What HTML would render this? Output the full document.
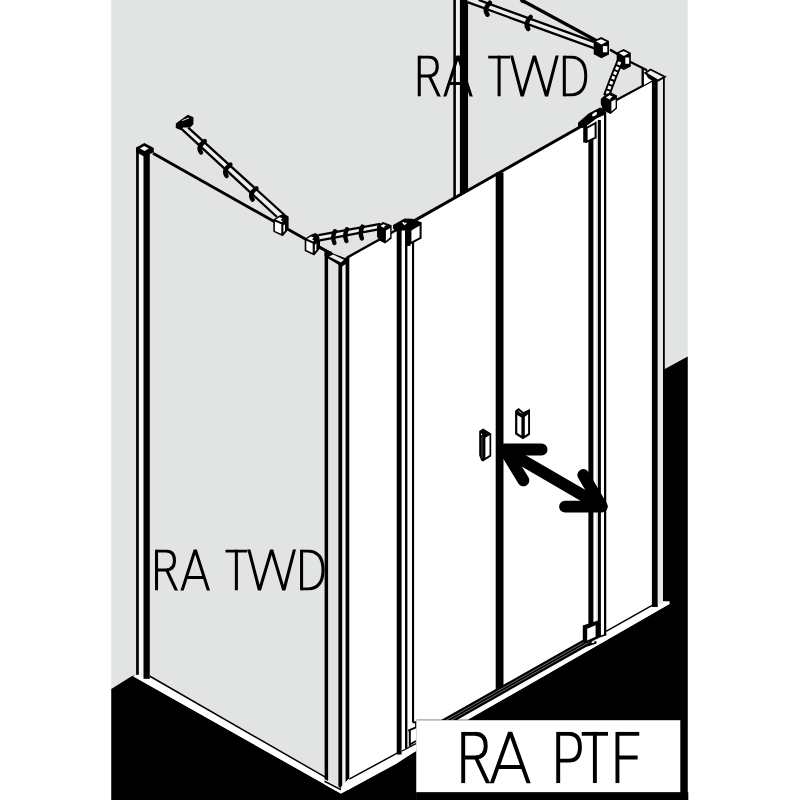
<!DOCTYPE html>
<html><head><meta charset="utf-8"><title>RA TWD / RA PTF</title>
<style>html,body{margin:0;padding:0;background:#fff;font-family:"Liberation Sans",sans-serif;}svg{display:block}</style>
</head><body>
<svg width="800" height="800" viewBox="0 0 800 800">
<rect x="0" y="0" width="800" height="800" fill="#fff"/>
<rect x="111.25" y="0" width="576.5" height="800" fill="#e2e4e3"/>
<polygon points="111.25,688.9 131.2,676.6 134.4,675.2 134.6,677 341,793.5 416.3,750.8 416.3,800 111.25,800" fill="#000" stroke="none" stroke-width="0" stroke-linejoin="miter"/>
<polygon points="687.75,356.5 663,370.1 663,601.5 669.4,601.5 669.4,604 468,719.6035999999999 416.3,719.6035999999999 416.3,800 687.75,800" fill="#000" stroke="none" stroke-width="0" stroke-linejoin="miter"/>
<rect x="453.3" y="0" width="6.7" height="200" fill="#f1f1f1"/>
<rect x="453.3" y="0" width="2.6" height="200" fill="#000"/>
<rect x="459.9" y="0" width="8.15" height="200" fill="#000"/>
<polygon points="348,257.5 396,230 396,764 348,790" fill="#fff" stroke="none" stroke-width="0" stroke-linejoin="miter"/>
<polygon points="396,232 415,220.3 583,125.38000000000002 607,108 616,100 652,80.5 658,80.5 658,604 663,601.5 669.4,601.5 669.4,604 468,719.6035999999999 416.3,719.6035999999999 416.3,750.8 396,764" fill="#fff" stroke="none" stroke-width="0" stroke-linejoin="miter"/>
<line x1="153" y1="153.3" x2="330" y2="253" stroke="#000" stroke-width="2.9" stroke-linecap="butt"/>
<polygon points="133,676.2 134.5,675.6 138.8,674.6 149.5,675.6 326,777.2 341,787 341,793.5" fill="#fff" stroke="none" stroke-width="0" stroke-linejoin="miter"/>
<line x1="149.5" y1="676" x2="327.5" y2="778.4" stroke="#000" stroke-width="1.5" stroke-linecap="butt"/>
<rect x="136.1" y="150" width="13.9" height="527" fill="#f4f4f4"/>
<rect x="136.1" y="148" width="2.7" height="526.8" fill="#000"/>
<rect x="143.5" y="150" width="6.3" height="528.8" fill="#000"/>
<polygon points="136,147.6 144.4,143 153.8,148 153.8,152.2 149.9,154 144,156.5 136,152" fill="#000" stroke="none" stroke-width="0" stroke-linejoin="miter"/>
<polygon points="139.9,148.4 144.1,145.9 148.8,148.5 144.6,150.9" fill="#f4f4f4" stroke="none" stroke-width="0" stroke-linejoin="miter"/>
<rect x="328" y="258" width="10.2" height="528" fill="#e2e4e3"/>
<rect x="341.9" y="262" width="3.6" height="528" fill="#f2f2f2"/>
<rect x="324.6" y="252.5" width="3.5" height="529.3" fill="#000"/>
<rect x="338.4" y="262" width="3.8" height="526.6" fill="#000"/>
<rect x="345.6" y="257" width="3.7" height="526.5" fill="#000"/>
<polygon points="324.6,250.5 331,251.6 333.3,253.4 345.5,258.3 349.1,256.6 349.1,262 341.9,266.5 338.1,264.5 328.1,258.5 324.6,256" fill="#000" stroke="none" stroke-width="0" stroke-linejoin="miter"/>
<polygon points="329,256.6 333.1,254.4 344,259.8 341,262.5" fill="#ececec" stroke="none" stroke-width="0" stroke-linejoin="miter"/>
<polygon points="324.6,779 341.5,788.6 349.3,783 349.3,789 341,793.6 324.6,784.4" fill="#fff" stroke="none" stroke-width="0" stroke-linejoin="miter"/>
<polyline points="324.6,781.2 340.4,789.4 349.3,783.4" fill="none" stroke="#000" stroke-width="1.6" stroke-linejoin="miter" stroke-linecap="butt"/>
<polygon points="341,793.5 416.3,750.8 416.3,742 349.4,778 341,787" fill="#fff" stroke="none" stroke-width="0" stroke-linejoin="miter"/>
<line x1="349.2" y1="779.2" x2="397.6" y2="752.9" stroke="#000" stroke-width="1.5" stroke-linecap="butt"/>
<line x1="347" y1="257.6" x2="396" y2="230.3" stroke="#000" stroke-width="2.4" stroke-linecap="butt"/>
<rect x="396.7" y="229" width="4.9" height="525.5" fill="#000"/>
<rect x="405" y="240" width="2.4" height="508.5" fill="#000"/>
<rect x="412" y="242" width="2.1" height="480.5" fill="#000"/>
<line x1="414" y1="220.9" x2="584" y2="124.81500000000003" stroke="#000" stroke-width="3" stroke-linecap="butt"/>
<rect x="495.7" y="172.5575" width="7.8" height="519.442" fill="#000"/>
<rect x="588.4" y="126" width="5.0" height="508" fill="#000"/>
<rect x="597.8" y="120" width="3.1" height="517" fill="#000"/>
<rect x="604" y="112" width="2.25" height="523.4" fill="#000"/>
<rect x="596.0" y="126" width="0.6" height="504" fill="#d8d8d8"/>
<line x1="616" y1="100.2" x2="652.4" y2="80.6" stroke="#000" stroke-width="2.2" stroke-linecap="butt"/>
<rect x="651.9" y="77" width="5.9" height="530" fill="#000"/>
<rect x="657.8" y="78" width="5.2" height="526" fill="#e8e9e9"/>
<rect x="663" y="77" width="1.8" height="293" fill="#000"/>
<polygon points="641.5,68.5 646,71.5 652,77 652,80.5 644,85 641.5,85" fill="#fff" stroke="none" stroke-width="0" stroke-linejoin="miter"/>
<rect x="641.5" y="68.5" width="2.4" height="17.0" fill="#000"/>
<line x1="629.5" y1="61.4" x2="647" y2="70.3" stroke="#000" stroke-width="2.2" stroke-linecap="butt"/>
<polygon points="645.2,73 650.5,69.5 664.8,76.7 658,80.6" fill="#f0f0f0" stroke="#000" stroke-width="1.9" stroke-linejoin="miter"/>
<polygon points="645,72.5 652.5,77 652.5,81 648,78" fill="#000" stroke="none" stroke-width="0" stroke-linejoin="miter"/>
<line x1="606" y1="631.4" x2="653" y2="604.9" stroke="#000" stroke-width="1.5" stroke-linecap="butt"/>
<polygon points="430,726.273 586,637.977 596.5,641.6 596.5,643.6 586,646.877 430,735.173" fill="#000" stroke="none" stroke-width="0" stroke-linejoin="miter"/>
<line x1="430" y1="729.373" x2="584" y2="642.2090000000001" stroke="#9a9a9a" stroke-width="0.7" stroke-linecap="butt"/>
<line x1="430" y1="732.173" x2="590" y2="641.6129999999999" stroke="#9a9a9a" stroke-width="0.7" stroke-linecap="butt"/>
<g stroke="#000" stroke-width="11.8" stroke-linecap="round" stroke-linejoin="round" fill="none">
<line x1="505" y1="450" x2="601.5" y2="506.2"/>
<polyline points="541.6,449.5 504.5,449.5 523.4,480.4"/>
<polyline points="565,506.6 601.8,506.6 583.3,475"/>
</g>
<polygon points="479.2,431 483.1,428.6 491.2,433.5 491.2,456.3 483.1,461.6 481.2,460.6 479.2,455.3" fill="#000" stroke="none" stroke-width="0" stroke-linejoin="miter"/>
<polygon points="485.4,437.8 489.5,435.3 489.5,455.0 485.4,457.8" fill="#fff" stroke="none" stroke-width="0" stroke-linejoin="miter"/>
<polygon points="481.0,433.4 482.6,434.3 481.0,435.6" fill="#fff" stroke="none" stroke-width="0" stroke-linejoin="miter"/>
<line x1="482" y1="436.5" x2="482" y2="458" stroke="#999" stroke-width="0.5" stroke-linecap="butt"/>
<polygon points="515.1,410.8 518.6,408.0 523.4,412.0 530.0,408.9 530.0,434.8 522.9,439.2 515.1,434.3" fill="#000" stroke="none" stroke-width="0" stroke-linejoin="miter"/>
<polygon points="517.3,415.0 521.4,417.5 521.4,435.6 517.3,433.0" fill="#fff" stroke="none" stroke-width="0" stroke-linejoin="miter"/>
<polygon points="524.8,416.8 528.1,414.3 528.1,433.2 524.8,435.7" fill="#fff" stroke="none" stroke-width="0" stroke-linejoin="miter"/>
<line x1="518.2" y1="410.8" x2="521.8" y2="413.3" stroke="#fff" stroke-width="0.7" stroke-linecap="butt"/>
<polygon points="175.8,123.4 187.8,114.8 193.4,117.3 193.4,124.2 190.2,127.4 183,127.4 180.6,130 175.8,128" fill="#000" stroke="none" stroke-width="0" stroke-linejoin="miter"/>
<line x1="182.2" y1="120.6" x2="188.8" y2="118.0" stroke="#fff" stroke-width="0.9" stroke-linecap="butt"/>
<polygon points="190.5,130 284.5,215 277,217 181,128" fill="#eeefef" stroke="none" stroke-width="0" stroke-linejoin="miter"/>
<line x1="188.2" y1="127.6" x2="284.5" y2="215" stroke="#000" stroke-width="2.3" stroke-linecap="butt"/>
<line x1="180.4" y1="127.8" x2="277" y2="217" stroke="#000" stroke-width="2.3" stroke-linecap="butt"/>
<path d="M 204.8,141.1 Q 196.8,146.8 201.0,152.5" fill="none" stroke="#000" stroke-width="4.4" stroke-linecap="round"/>
<path d="M 230.4,164.6 Q 222.4,170.3 226.6,176.0" fill="none" stroke="#000" stroke-width="4.4" stroke-linecap="round"/>
<path d="M 256.4,188.2 Q 248.4,193.9 252.6,199.6" fill="none" stroke="#000" stroke-width="4.4" stroke-linecap="round"/>
<polygon points="273.3,219.6 279.5,215.6 284,213.8 288.6,216.4 288.6,229.2 282.8,236.2 273.3,231.8" fill="#000" stroke="none" stroke-width="0" stroke-linejoin="miter"/>
<polygon points="274.9,221.6 281.3,224.2 281.3,233.8 274.9,230.9" fill="#fff" stroke="none" stroke-width="0" stroke-linejoin="miter"/>
<polygon points="275.6,219.6 279.6,217.2 282.4,218.3 280.6,220.0 282.6,221.0 281.8,222.2" fill="#fff" stroke="none" stroke-width="0" stroke-linejoin="miter"/>
<polygon points="283.4,225.5 285.0,224.3 285.0,230.8 283.4,232.6" fill="#fff" stroke="none" stroke-width="0" stroke-linejoin="miter"/>
<polygon points="304.7,238.79999999999998 310.9,234.79999999999998 315.4,233.0 320.0,235.6 320.0,248.39999999999998 314.2,255.39999999999998 304.7,251.0" fill="#000" stroke="none" stroke-width="0" stroke-linejoin="miter"/>
<polygon points="306.29999999999995,240.79999999999998 312.7,243.39999999999998 312.7,253.0 306.29999999999995,250.1" fill="#fff" stroke="none" stroke-width="0" stroke-linejoin="miter"/>
<polygon points="307.0,238.79999999999998 311.0,236.39999999999998 313.79999999999995,237.5 312.0,239.2 314.0,240.2 313.2,241.39999999999998" fill="#fff" stroke="none" stroke-width="0" stroke-linejoin="miter"/>
<polygon points="314.79999999999995,244.7 316.4,243.5 316.4,250.0 314.79999999999995,251.79999999999998" fill="#fff" stroke="none" stroke-width="0" stroke-linejoin="miter"/>
<polygon points="318.6,235.1 380.5,223.9 379.5,229 319.9,240.1" fill="#eeefef" stroke="none" stroke-width="0" stroke-linejoin="miter"/>
<line x1="318.6" y1="235.1" x2="380.5" y2="223.9" stroke="#000" stroke-width="2.3" stroke-linecap="butt"/>
<line x1="319.9" y1="240.4" x2="379.5" y2="229.2" stroke="#000" stroke-width="2.3" stroke-linecap="butt"/>
<path d="M 335.0,231.2 Q 331.8,236.79999999999998 334.40000000000003,242.99999999999997" fill="none" stroke="#000" stroke-width="4.4" stroke-linecap="round"/>
<path d="M 347.0,229.2 Q 343.8,234.79999999999998 346.40000000000003,240.99999999999997" fill="none" stroke="#000" stroke-width="4.4" stroke-linecap="round"/>
<path d="M 362.5,226.6 Q 359.3,232.2 361.90000000000003,238.39999999999998" fill="none" stroke="#000" stroke-width="4.4" stroke-linecap="round"/>
<line x1="318" y1="246.6" x2="331" y2="253.4" stroke="#000" stroke-width="2.4" stroke-linecap="butt"/>
<polygon points="377,226.2 383,222 391.6,225.2 391.6,238.4 385.2,243.6 379.2,240.6 377,236.5" fill="#000" stroke="none" stroke-width="0" stroke-linejoin="miter"/>
<polygon points="385.9,230.4 390.2,228.0 390.2,237.2 385.9,241.0" fill="#fff" stroke="none" stroke-width="0" stroke-linejoin="miter"/>
<polygon points="380.4,226.0 383.4,224.2 386.2,225.3 384.2,226.6 384.4,228.0" fill="#fff" stroke="none" stroke-width="0" stroke-linejoin="miter"/>
<polygon points="393,225 404.6,218.4 412.4,218.8 421.2,222.3 421.2,225.4 410.4,230.4 401.7,230.4 396.7,231.4 393,228.4" fill="#000" stroke="none" stroke-width="0" stroke-linejoin="miter"/>
<polygon points="402,222.6 404,221.8 404.6,223.2 406,222.2 406.8,223.6 404.4,225.2" fill="#fff" stroke="none" stroke-width="0" stroke-linejoin="miter"/>
<polygon points="410.4,229.8 420.6,223.8 420.6,238 410.4,243.4" fill="#fff" stroke="#000" stroke-width="2.0" stroke-linejoin="miter"/>
<rect x="405" y="229" width="5.4" height="17" fill="#000"/>
<polygon points="479.5,0 595,42 595,48.5 467.5,2.2 467.5,0" fill="#ebecec" stroke="none" stroke-width="0" stroke-linejoin="miter"/>
<line x1="478.6" y1="0" x2="596" y2="42.7" stroke="#000" stroke-width="2.3" stroke-linecap="butt"/>
<line x1="467.5" y1="2.2" x2="596" y2="48.9" stroke="#000" stroke-width="2.3" stroke-linecap="butt"/>
<path d="M 489.8,2.8000000000000007 Q 483.4,9.3 487.4,14.600000000000001" fill="none" stroke="#000" stroke-width="4.6" stroke-linecap="round"/>
<path d="M 530.6,17.0 Q 524.2,23.5 528.2,28.8" fill="none" stroke="#000" stroke-width="4.6" stroke-linecap="round"/>
<line x1="520.5" y1="-0.5" x2="598" y2="41.5" stroke="#000" stroke-width="3.3" stroke-linecap="butt"/>
<line x1="521" y1="1" x2="527" y2="3.2" stroke="#000" stroke-width="2.4" stroke-linecap="butt"/>
<polygon points="594.6,41.3 601.2,38 608.1,41.63 608.1,54.03 601.5,57.33 594.6,53.699999999999996" fill="#000" stroke="#000" stroke-width="1.8" stroke-linejoin="miter"/>
<polygon points="596.0,41.3 601.2,39.2 606.6,41.63 601.5,44.6" fill="#fff" stroke="none" stroke-width="0" stroke-linejoin="miter"/>
<rect x="602.9" y="46.1" width="4.3999999999999995" height="6.2" fill="#fff"/>
<line x1="610" y1="49.6" x2="618.5" y2="54.6" stroke="#000" stroke-width="2.4" stroke-linecap="butt"/>
<polygon points="617.6,53.0 623.6,50 629.9,53.3 629.9,65.89999999999999 623.9,68.89999999999999 617.6,65.6" fill="#000" stroke="#000" stroke-width="1.8" stroke-linejoin="miter"/>
<polygon points="619.0,53.0 623.6,51.2 628.4,53.3 623.9,56.0" fill="#fff" stroke="none" stroke-width="0" stroke-linejoin="miter"/>
<rect x="625.3" y="57.5" width="3.8" height="6.3" fill="#fff"/>
<path d="M 620.5,60 Q 612,80 606.5,96" stroke="#000" stroke-width="7" fill="none"/>
<path d="M 620.2,61 Q 612,80 606.8,95" stroke="#fff" stroke-width="3.1" fill="none" stroke-dasharray="3.3 1.9" stroke-dashoffset="-0.8"/>
<polygon points="600.8,99 606,94 611,92.6 617,95.6 617,108.6 610.6,114 603.2,110.6 600.8,104" fill="#000" stroke="none" stroke-width="0" stroke-linejoin="miter"/>
<polygon points="611.4,101.6 615.6,99.2 615.6,107.8 611.4,111.4" fill="#fff" stroke="none" stroke-width="0" stroke-linejoin="miter"/>
<polygon points="606,97.6 609.4,95.2 612.6,96.6 610.2,98.4 610.4,99.8" fill="#fff" stroke="none" stroke-width="0" stroke-linejoin="miter"/>
<polygon points="578,122.8 588.6,113.6 600,107.4 605.4,109.6 605.4,114.4 596.4,118.4 588.6,124.4 583,128 578,127" fill="#000" stroke="none" stroke-width="0" stroke-linejoin="miter"/>
<ellipse cx="594.6" cy="114.2" rx="2.9" ry="1.5" transform="rotate(-32 594.6 114.2)" fill="#fff"/>
<polygon points="586.6,128 595.6,123 595.6,137.6 586.6,141.8" fill="#fff" stroke="#000" stroke-width="2.0" stroke-linejoin="miter"/>
<rect x="583.2" y="124.5" width="3.8" height="18.1" fill="#000"/>
<polygon points="582.8,625.6 598.1,620.6 598.1,638.4 588,642.6 582.8,642.6" fill="#000" stroke="none" stroke-width="0" stroke-linejoin="miter"/>
<polygon points="587.2,628.8 595.6,625.2 595.6,636.8 587.2,640.5" fill="#fff" stroke="none" stroke-width="0" stroke-linejoin="miter"/>
<line x1="597.4" y1="637.6" x2="606.2" y2="634.4" stroke="#000" stroke-width="1.6" stroke-linecap="butt"/>
<ellipse cx="593.1" cy="642" rx="1.7" ry="0.95" transform="rotate(-20 593.1 642)" fill="#fff"/>
<polyline points="413,722.6 416,722 416,727.4 408.2,730.6" fill="none" stroke="#000" stroke-width="1.8" stroke-linejoin="miter" stroke-linecap="butt"/>
<polyline points="409.8,730 409.8,746.5" fill="none" stroke="#000" stroke-width="2.0" stroke-linejoin="miter" stroke-linecap="butt"/>
<polyline points="409.8,744.6 416,741" fill="none" stroke="#000" stroke-width="1.8" stroke-linejoin="miter" stroke-linecap="butt"/>
<polyline points="402,751 416,743.6" fill="none" stroke="#000" stroke-width="1.4" stroke-linejoin="miter" stroke-linecap="butt"/>
<rect x="416.3" y="720.2" width="264" height="72.2" fill="#fff"/>
<rect x="416.3" y="792.4" width="272" height="8" fill="#000"/>
<clipPath id="c1"><rect x="0" y="55.5" width="800" height="41"/></clipPath>
<g clip-path="url(#c1)" fill="none" stroke="#000" stroke-width="3.05" stroke-linejoin="miter" stroke-miterlimit="10">
<path d="M 419.27,55.5 V 96.5"/>
<path d="M 419.27,57.02 L 428.41,57.02 C 434.56,57.02 437.23,60.42 437.23,66.57 C 437.23,72.72 434.56,76.00 428.41,76.00 L 419.27,76.00"/>
<path d="M 429.44,76.00 L 439.69,97.73"/>
<polyline points="444.44,97.73 458.00,55.50 471.56,97.73"/>
<path d="M 449.18,83.59 L 466.82,83.59"/>
<path d="M 488.25,57.02 L 510.00,57.02"/>
<path d="M 499.12,55.50 L 499.12,96.50"/>
<polyline points="511.26,54.27 522.19,96.50 534.38,55.50 546.56,96.50 557.49,54.27"/>
<path d="M 564.32,55.5 V 96.5"/>
<path d="M 564.32,57.02 L 569.77,57.02 C 580.84,57.02 585.76,63.70 585.76,76.00 C 585.76,88.30 580.84,94.97 569.77,94.97 L 564.32,94.97"/>
</g>
<clipPath id="c2"><rect x="0" y="549.5" width="800" height="41"/></clipPath>
<g clip-path="url(#c2)" fill="none" stroke="#000" stroke-width="3.05" stroke-linejoin="miter" stroke-miterlimit="10">
<path d="M 156.53,549.5 V 590.5"/>
<path d="M 156.53,551.02 L 165.66,551.02 C 171.81,551.02 174.47,554.42 174.47,560.57 C 174.47,566.72 171.81,570.00 165.66,570.00 L 156.53,570.00"/>
<path d="M 166.69,570.00 L 176.94,591.73"/>
<polyline points="181.69,591.73 195.25,549.50 208.81,591.73"/>
<path d="M 186.43,577.59 L 204.07,577.59"/>
<path d="M 225.50,551.02 L 247.25,551.02"/>
<path d="M 236.38,549.50 L 236.38,590.50"/>
<polyline points="248.51,548.27 259.44,590.50 271.62,549.50 283.81,590.50 294.74,548.27"/>
<path d="M 301.57,549.5 V 590.5"/>
<path d="M 301.57,551.02 L 307.02,551.02 C 318.09,551.02 323.01,557.70 323.01,570.00 C 323.01,582.30 318.09,588.98 307.02,588.98 L 301.57,588.98"/>
</g>
<clipPath id="c3"><rect x="0" y="731.75" width="800" height="51.5"/></clipPath>
<g clip-path="url(#c3)" fill="none" stroke="#000" stroke-width="3.9" stroke-linejoin="miter" stroke-miterlimit="10">
<path d="M 463.20,731.75 V 783.25"/>
<path d="M 463.20,733.70 L 474.64,733.70 C 482.37,733.70 485.71,737.93 485.71,745.65 C 485.71,753.38 482.37,757.50 474.64,757.50 L 463.20,757.50"/>
<path d="M 475.93,757.50 L 488.80,784.79"/>
<polyline points="491.27,784.79 510.20,731.75 529.13,784.79"/>
<path d="M 497.96,767.03 L 522.44,767.03"/>
<path d="M 558.20,731.75 V 783.25"/>
<path d="M 558.20,733.70 L 568.61,733.70 C 576.85,733.70 579.94,738.45 579.94,746.94 C 579.94,755.44 576.85,760.59 568.61,760.59 L 558.20,760.59"/>
<path d="M 581.75,733.70 L 608.00,733.70"/>
<path d="M 594.88,731.75 L 594.88,783.25"/>
<path d="M 617.45,731.75 V 783.25"/>
<path d="M 617.45,733.70 L 639.24,733.70"/>
<path d="M 617.45,757.50 L 637.64,757.50"/>
</g>
</svg>
</body></html>
